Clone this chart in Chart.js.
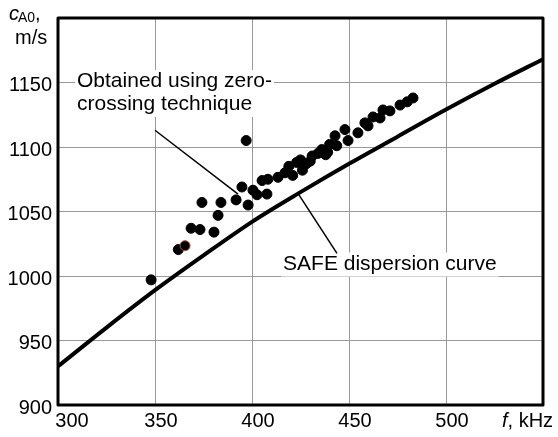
<!DOCTYPE html>
<html>
<head>
<meta charset="utf-8">
<script src="https://cdn.jsdelivr.net/npm/chart.js@4.4.1/dist/chart.umd.min.js"></script>
<style>
  html, body { margin: 0; padding: 0; background: #fff; }
  #wrap { width: 558px; height: 437px; }
</style>
</head>
<body>
<div id="wrap"><canvas id="chart"></canvas></div>
<script>
// SAFE dispersion curve, sampled every 25 kHz
const safeFreq = [300, 325, 350, 375, 400, 425, 450, 475, 500, 525, 550];
const safeSpeed = [930, 960, 989, 1016, 1042, 1065, 1087, 1108, 1129, 1149, 1168];

// zero-crossing measurements
const measFreq = [
  348, 362, 365.5, 368.6, 373.2, 380.4, 382.5, 374.2, 384, 391.8, 398,
  397, 394.8, 400.5, 402.6, 405.2, 408.2, 407.7, 413.4,
  417, 419, 421, 423, 425, 426, 428, 430, 431, 434, 436, 438, 440, 439,
  442.8, 447.9, 443.7, 449.5, 454.6, 459.8, 458.2, 462.4, 466, 467.5, 471.1, 476.3, 480, 483
];
const measSpeed = [
  997, 1020.5, 1023.5, 1037, 1036, 1034, 1047, 1057, 1057, 1059, 1055,
  1105, 1069, 1066.5, 1063, 1074, 1075, 1063.5, 1076.5,
  1080, 1085, 1078, 1088, 1090, 1082, 1087, 1089, 1093, 1095, 1098, 1094, 1102, 1096,
  1108.7, 1113.5, 1101, 1105, 1111, 1116.4, 1118.7, 1123.3, 1122.5, 1128.7, 1128, 1132.5, 1135, 1138
];
// one marker in the original is outlined in red-brown
const oddPoint = 2;

const xTicks = [300, 350, 400, 450, 500];
const yTicks = [900, 950, 1000, 1050, 1100, 1150];

// leader lines from the labels to the data
const leaderZero = [{ x: 350, y: 1113 }, { x: 392.8, y: 1063.5 }];
const leaderSafe = [{ x: 423.7, y: 1064 }, { x: 443.8, y: 1017.5 }];

const FONT = '"Liberation Sans", Arial, sans-serif';

const safePts = safeFreq.map((f, i) => ({ x: f, y: safeSpeed[i] }));
const measPts = measFreq.map((f, i) => ({ x: f, y: measSpeed[i] }));

function labelBox(ctx, lines, x, y, lineH) {
  ctx.font = '21px ' + FONT;
  const w = Math.max(...lines.map(l => ctx.measureText(l).width));
  ctx.fillStyle = '#fff';
  ctx.fillRect(x - 2, y - 17, w + 4, lineH * (lines.length - 1) + 24);
  ctx.fillStyle = '#000';
  ctx.textBaseline = 'alphabetic';
  ctx.textAlign = 'left';
  lines.forEach((l, i) => ctx.fillText(l, x, y + i * lineH));
}

const decor = {
  id: 'decor',
  beforeDatasetsDraw(chart) {
    const { ctx, scales: { x, y } } = chart;
    ctx.save();
    labelBox(ctx, ['Obtained using zero-', 'crossing technique'],
      x.getPixelForValue(309.8), y.getPixelForValue(1146.5), 23);
    labelBox(ctx, ['SAFE dispersion curve'],
      x.getPixelForValue(416), y.getPixelForValue(1104.5 - 1104.5 + 1005), 23);
    ctx.restore();
  },
  afterDraw(chart) {
    const { ctx, chartArea: a, scales: { x } } = chart;
    ctx.save();
    // frame
    ctx.strokeStyle = '#000';
    ctx.lineWidth = 3;
    ctx.lineJoin = 'round';
    ctx.strokeRect(a.left, a.top, a.right - a.left, a.bottom - a.top);

    // x tick labels, set a little right of the ticks
    ctx.fillStyle = '#000';
    ctx.font = '20px ' + FONT;
    ctx.textAlign = 'center';
    ctx.textBaseline = 'alphabetic';
    xTicks.forEach((v, i) => {
      const px = x.getPixelForValue(v) + 6 + (i === 0 ? 8 : 0);
      ctx.fillText(String(v), px, a.bottom + 22);
    });

    // axis titles
    ctx.textAlign = 'left';
    ctx.font = 'italic 20px ' + FONT;
    ctx.fillText('c', 9, 20);
    ctx.font = '14px ' + FONT;
    ctx.fillText('A0', 18, 22);
    ctx.font = '20px ' + FONT;
    ctx.fillText(',', 35, 20);
    ctx.fillText('m/s', 15, 44);

    ctx.font = 'italic 20px ' + FONT;
    ctx.fillText('f', 502, a.bottom + 22);
    const fw = ctx.measureText('f').width;
    ctx.font = '20px ' + FONT;
    ctx.fillText(', kHz', 502 + fw, a.bottom + 22);
    ctx.restore();
  }
};

new Chart(document.getElementById('chart'), {
  type: 'scatter',
  data: {
    datasets: [
      {
        label: 'SAFE dispersion curve',
        data: safePts,
        showLine: true,
        borderColor: '#000',
        borderWidth: 4,
        pointRadius: 0,
        cubicInterpolationMode: 'monotone'
      },
      {
        label: 'Obtained using zero-crossing technique',
        data: measPts,
        backgroundColor: '#000',
        borderColor: measPts.map((p, i) => i === oddPoint ? '#b5521e' : '#000'),
        borderWidth: 1,
        pointRadius: 5
      },
      {
        data: leaderZero,
        showLine: true,
        borderColor: '#000',
        borderWidth: 1.5,
        pointRadius: 0
      },
      {
        data: leaderSafe,
        showLine: true,
        borderColor: '#000',
        borderWidth: 1.5,
        pointRadius: 0
      }
    ]
  },
  options: {
    responsive: true,
    maintainAspectRatio: false,
    animation: false,
    devicePixelRatio: 1,
    layout: { padding: { top: 14, right: 15, left: 0, bottom: 0 } },
    plugins: { legend: { display: false }, tooltip: { enabled: false } },
    scales: {
      x: {
        type: 'linear',
        min: 300,
        max: 550,
        ticks: { stepSize: 50, display: false },
        grid: { color: '#999', lineWidth: 1, drawTicks: false },
        border: { display: false },
        afterFit: s => { s.height = 32; }
      },
      y: {
        type: 'linear',
        min: 900,
        max: 1200,
        ticks: {
          stepSize: 50,
          color: '#000',
          padding: 6,
          labelOffset: 3,
          font: { family: FONT, size: 20 },
          callback: v => yTicks.includes(v) ? String(v) : ''
        },
        grid: { color: '#999', lineWidth: 1, drawTicks: false },
        border: { display: false },
        afterFit: s => { s.width = 58; }
      }
    }
  },
  plugins: [decor]
});
</script>
</body>
</html>
